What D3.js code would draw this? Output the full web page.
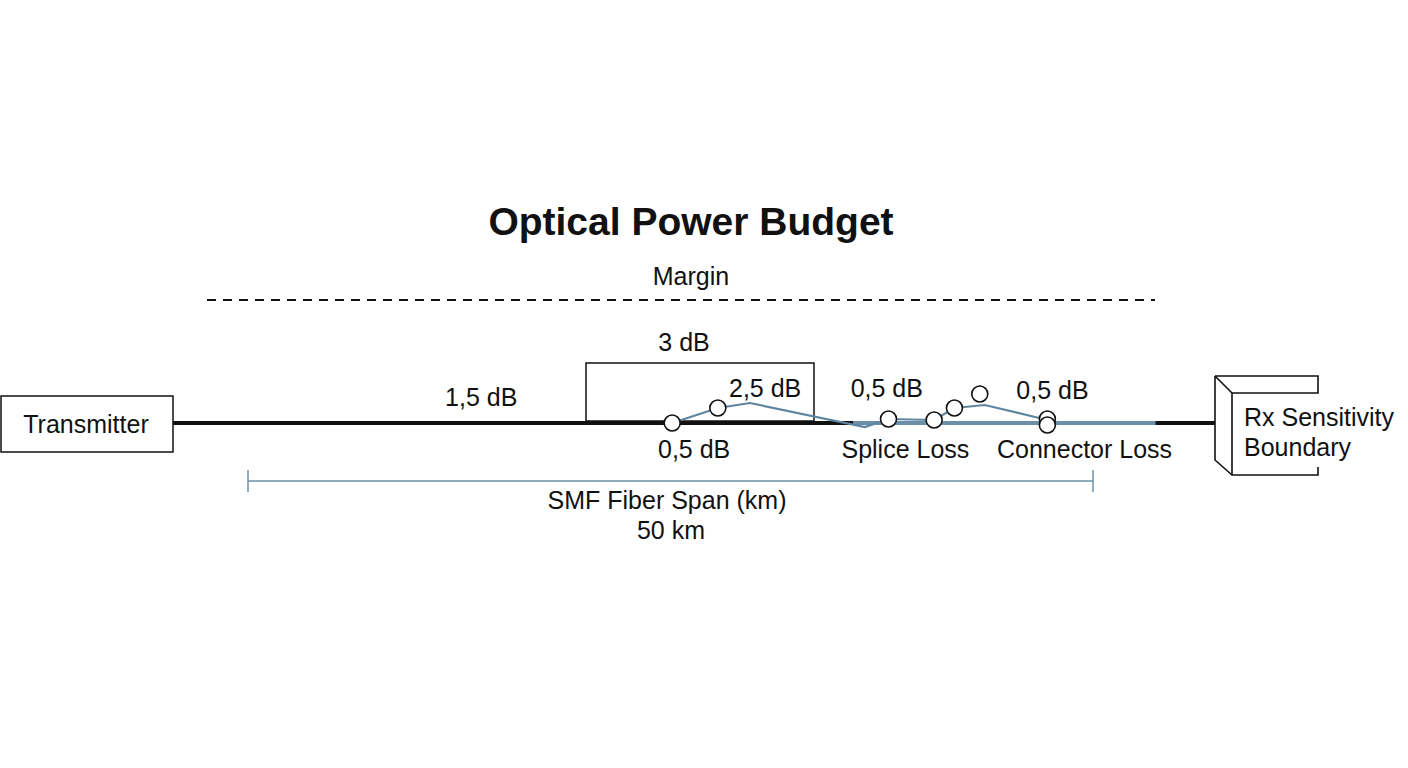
<!DOCTYPE html>
<html><head><meta charset="utf-8">
<script src="https://cdn.jsdelivr.net/npm/d3@7"></script>
<style>body{margin:0;background:#fff}text{font-family:"Liberation Sans",Arial,sans-serif;fill:#111}</style>
</head><body><svg id="c" width="1408" height="768"></svg>
<script>
// positions along the link in km (span 0..50), level offsets in arbitrary units
var traceKm = [25.1, 27.8, 29.7, 36.5, 37.9, 40.6, 41.8, 43.6, 47.3];
var traceLvl = [0, 15, 20, -4, 4, 3, 15, 18, 3];
var markerKm = [25.1, 27.8, 37.9, 40.6, 41.8, 43.3, 47.3, 47.3];
var markerLvl = [0, 15, 4, 3, 15, 29, 4, -2];
var labels = ['1,5 dB', '3 dB', '2,5 dB', '0,5 dB', '0,5 dB', '0,5 dB', 'Splice Loss', 'Connector Loss'];
var labelKm = [13.8, 25.8, 30.6, 37.8, 26.4, 47.6, 38.9, 49.5];
var labelLvl = [26, 81, 35, 35, -26, 33, -26, -26];

var svg = d3.select('#c');
var x = d3.scaleLinear().domain([0, 50]).range([248, 1093]);
var y = d3.scaleLinear().domain([0, 20]).range([423, 403]);
var fs = '25px';

svg.append('text').attr('x', 691).attr('y', 235).attr('text-anchor', 'middle')
  .style('font-size', '39px').style('font-weight', 'bold').text('Optical Power Budget');
svg.append('text').attr('x', 691).attr('y', 285).attr('text-anchor', 'middle')
  .style('font-size', fs).text('Margin');
svg.append('line').attr('x1', 207).attr('x2', 1155).attr('y1', 300).attr('y2', 300)
  .attr('stroke', '#111').attr('stroke-width', 2).attr('stroke-dasharray', '9,7');

// main fibre line
svg.append('line').attr('x1', 173).attr('x2', 1215).attr('y1', y(0)).attr('y2', y(0))
  .attr('stroke', '#111').attr('stroke-width', 4);
svg.append('line').attr('x1', x(35.8)).attr('x2', x(53.7)).attr('y1', y(0)).attr('y2', y(0))
  .attr('stroke', '#6b8fa8').attr('stroke-width', 4);

// 3 dB box
svg.append('rect').attr('x', 586).attr('y', 363).attr('width', 228).attr('height', 58)
  .attr('fill', 'none').attr('stroke', '#111').attr('stroke-width', 1.5);

// Transmitter
svg.append('rect').attr('x', 1).attr('y', 396).attr('width', 172).attr('height', 56)
  .attr('fill', '#fff').attr('stroke', '#111').attr('stroke-width', 1.5);
svg.append('text').attr('x', 86).attr('y', 433).attr('text-anchor', 'middle')
  .style('font-size', fs).text('Transmitter');

// loss trace
var line = d3.line().x(function(d) { return x(d[0]); }).y(function(d) { return y(d[1]); });
svg.append('path').datum(d3.zip(traceKm, traceLvl)).attr('d', line)
  .attr('fill', 'none').attr('stroke', '#5f85a0').attr('stroke-width', 2.2);
svg.selectAll('circle.m').data(d3.zip(markerKm, markerLvl)).enter().append('circle')
  .attr('cx', function(d) { return x(d[0]); }).attr('cy', function(d) { return y(d[1]); })
  .attr('r', 8).attr('fill', '#fff').attr('stroke', '#111').attr('stroke-width', 1.6);

svg.selectAll('text.l').data(d3.zip(labels, labelKm, labelLvl)).enter().append('text')
  .attr('x', function(d) { return x(d[1]); }).attr('y', function(d) { return y(d[2]) + 9; })
  .attr('text-anchor', 'middle').style('font-size', fs).text(function(d) { return d[0]; });

// span bracket
var spanColor = '#6b8fa8';
svg.append('line').attr('x1', x(0)).attr('x2', x(50)).attr('y1', 481).attr('y2', 481)
  .attr('stroke', spanColor).attr('stroke-width', 1.5);
[0, 50].forEach(function(k) {
  svg.append('line').attr('x1', x(k)).attr('x2', x(k)).attr('y1', 470).attr('y2', 492)
    .attr('stroke', spanColor).attr('stroke-width', 1.5);
});
svg.append('text').attr('x', 667).attr('y', 509).attr('text-anchor', 'middle')
  .style('font-size', fs).text('SMF Fiber Span (km)');
svg.append('text').attr('x', 671).attr('y', 539).attr('text-anchor', 'middle')
  .style('font-size', fs).text('50 km');

// Rx bracket
var rx = svg.append('g').attr('fill', 'none').attr('stroke', '#111').attr('stroke-width', 1.6);
rx.append('path').attr('d', 'M1215,376 L1318,376 L1318,393 L1232,393 L1232,475 L1318,475 L1318,467');
rx.append('path').attr('d', 'M1215,376 L1232,393 M1215,376 L1215,460 L1232,475');
svg.append('text').attr('x', 1244).attr('y', 426).style('font-size', fs).text('Rx Sensitivity');
svg.append('text').attr('x', 1244).attr('y', 456).style('font-size', fs).text('Boundary');
</script></body></html>
